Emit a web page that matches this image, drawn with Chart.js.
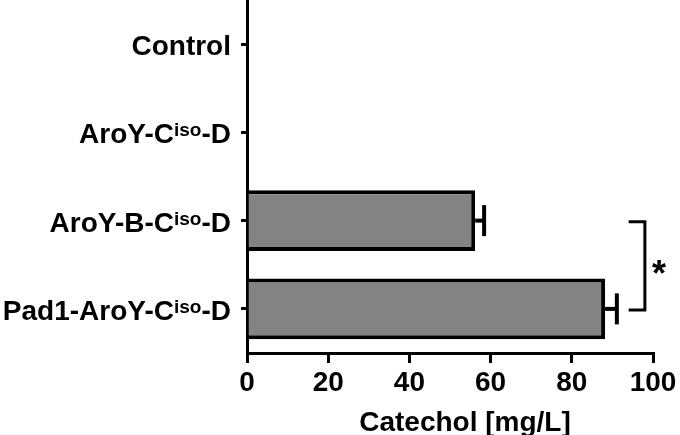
<!DOCTYPE html>
<html>
<head>
<meta charset="utf-8">
<script src="https://cdn.jsdelivr.net/npm/chart.js@4"></script>
<style>
  html, body { margin: 0; padding: 0; background: #fff; }
  #wrap { width: 680px; height: 435px; position: relative; }
</style>
</head>
<body>
<div id="wrap"><canvas id="c" width="680" height="435"></canvas></div>
<script>
// Categories ({...} marks superscript text)
const categories = ['Control', 'AroY-C{iso}-D', 'AroY-B-C{iso}-D', 'Pad1-AroY-C{iso}-D'];
// Catechol concentration (mg/L) means and SD (positive side)
const catechol = [0, 0, 56.2, 88.2];
const catecholErr = [0, 0, 2.2, 2.9];
// X axis
const xTicks = [0, 20, 40, 60, 80, 100];
const xTitle = 'Catechol [mg/L]';
// Significance bracket between these categories
const sigPair = [2, 3];
const sigLabel = '*';

const FONT = "'Liberation Sans', Arial, Helvetica, sans-serif";
const plainLabel = s => s.replace(/[{}]/g, '');

function parseParts(s) {
  const parts = [];
  const re = /\{([^}]*)\}|([^{]+)/g;
  let m;
  while ((m = re.exec(s)) !== null) {
    if (m[1] !== undefined) parts.push({ t: m[1], sup: true });
    else parts.push({ t: m[2], sup: false });
  }
  return parts;
}

const customDraw = {
  id: 'customDraw',
  afterDatasetsDraw(chart) {
    const ctx = chart.ctx;
    const xs = chart.scales.x, ys = chart.scales.y;
    const meta = chart.getDatasetMeta(0);
    ctx.save();
    // Error bars
    ctx.strokeStyle = '#000';
    ctx.lineWidth = 4;
    ctx.lineCap = 'butt';
    catechol.forEach((v, i) => {
      const e = catecholErr[i];
      if (!e) return;
      const y = meta.data[i].y;
      const x0 = xs.getPixelForValue(v);
      const x1 = xs.getPixelForValue(v + e);
      ctx.beginPath();
      ctx.moveTo(x0, y); ctx.lineTo(x1, y);
      ctx.stroke();
      ctx.beginPath();
      ctx.moveTo(x1, y - 15.5); ctx.lineTo(x1, y + 15.5);
      ctx.stroke();
    });
    // Significance bracket
    const ya = ys.getPixelForValue(sigPair[0]) + 1;
    const yb = ys.getPixelForValue(sigPair[1]) + 1;
    const xa = xs.getPixelForValue(94.0);
    const xb = xs.getPixelForValue(98.0);
    ctx.lineWidth = 3;
    ctx.beginPath();
    ctx.moveTo(xa, ya); ctx.lineTo(xb, ya); ctx.lineTo(xb, yb); ctx.lineTo(xa, yb);
    ctx.stroke();
    ctx.fillStyle = '#000';
    ctx.font = 'bold 36px ' + FONT;
    ctx.textAlign = 'center';
    ctx.textBaseline = 'alphabetic';
    ctx.fillText(sigLabel, xb + 14, (ya + yb) / 2 + 20);
    ctx.restore();
  },
  afterDraw(chart) {
    const ctx = chart.ctx;
    const xs = chart.scales.x, ys = chart.scales.y;
    ctx.save();
    ctx.fillStyle = '#000';
    ctx.textBaseline = 'alphabetic';
    ctx.textAlign = 'left';
    const mainFont = 'bold 28px ' + FONT;
    const supFont = 'bold 19px ' + FONT;
    categories.forEach((lab, i) => {
      const parts = parseParts(lab);
      let total = 0;
      parts.forEach(p => {
        ctx.font = p.sup ? supFont : mainFont;
        p.w = ctx.measureText(p.t).width;
        total += p.w;
      });
      const y = ys.getPixelForTick(i) + 11;
      let x = ys.right - 16 - total;
      parts.forEach(p => {
        ctx.font = p.sup ? supFont : mainFont;
        ctx.fillText(p.t, x, p.sup ? y - 7 : y);
        x += p.w;
      });
    });
    // X axis title
    ctx.font = mainFont;
    ctx.textAlign = 'center';
    ctx.fillText(xTitle, (xs.left + xs.right) / 2 + 15, 431);
    ctx.restore();
  }
};

new Chart(document.getElementById('c'), {
  type: 'bar',
  data: {
    labels: categories.map(plainLabel),
    datasets: [{
      data: catechol,
      backgroundColor: '#838383',
      borderColor: '#000',
      borderWidth: 4,
      borderSkipped: 'start',
      barPercentage: 0.69,
      categoryPercentage: 1.0
    }]
  },
  options: {
    indexAxis: 'y',
    responsive: false,
    animation: false,
    events: [],
    layout: { padding: { top: 0, right: 27, left: 0, bottom: 0 } },
    plugins: { legend: { display: false }, tooltip: { enabled: false }, title: { display: false } },
    scales: {
      y: {
        type: 'category',
        offset: true,
        ticks: { display: false },
        grid: { display: true, offset: false, drawOnChartArea: false, drawTicks: true, tickLength: 6, color: '#000', lineWidth: 3 },
        border: { display: true, color: '#000', width: 3 },
        afterFit(s) { s.width = 247; }
      },
      x: {
        type: 'linear',
        min: 0, max: 100,
        afterBuildTicks(s) { s.ticks = xTicks.map(v => ({ value: v })); },
        ticks: { color: '#000', font: { family: FONT, size: 28, weight: 'bold' }, padding: 3, maxRotation: 0 },
        grid: { display: true, drawOnChartArea: false, drawTicks: true, tickLength: 10, color: '#000', lineWidth: 3 },
        border: { display: true, color: '#000', width: 3 },
        afterFit(s) { s.height = 82; }
      }
    }
  },
  plugins: [customDraw]
});
</script>
</body>
</html>
